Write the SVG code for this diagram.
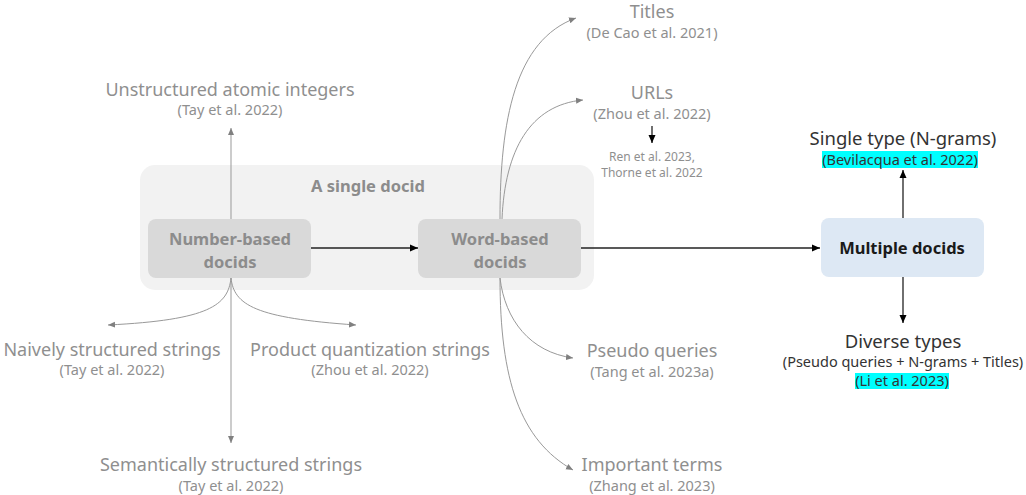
<svg xmlns="http://www.w3.org/2000/svg" width="1026" height="495" viewBox="0 0 1026 495">
<defs>
<marker id="ag" markerWidth="8" markerHeight="8" refX="7" refY="4" orient="auto" markerUnits="userSpaceOnUse"><path d="M0,1 L7,4 L0,7 Z" fill="#808080"/></marker>
<marker id="ab" markerWidth="9" markerHeight="9" refX="8" refY="4.5" orient="auto" markerUnits="userSpaceOnUse"><path d="M0,1 L8,4.5 L0,8 Z" fill="#000"/></marker>
<style>
text{font-family:"Noto Sans","Open Sans","Liberation Sans",sans-serif;text-anchor:middle}
.lab{font-size:18px;fill:#8f8f8f}
.cit{font-size:14.5px;fill:#8f8f8f}
.sm{font-size:12px;fill:#8f8f8f}
.nd{font-size:16.5px;font-weight:bold;fill:#8c8c8c}
.dk{font-size:18.5px;fill:#333}
.dkc{font-size:14.5px;fill:#333}
.g{fill:none;stroke:#999;stroke-width:1}
.b{fill:none;stroke:#222;stroke-width:1.3}
</style>
</defs>
<g id="container"><rect x="140" y="165" width="454" height="125" rx="15" fill="#f2f2f2"/><text x="368" y="192" class="nd">A single docid</text></g>
<g id="number-based"><rect x="148" y="219" width="163" height="59" rx="8" fill="#d9d9d9"/><text x="230" y="245" class="nd">Number-based</text><text x="230" y="268" class="nd">docids</text></g>
<g id="word-based"><rect x="418" y="219" width="163" height="59" rx="8" fill="#d9d9d9"/><text x="500" y="245" class="nd">Word-based</text><text x="500" y="268" class="nd">docids</text></g>
<g id="multiple"><rect x="821" y="218" width="163" height="59" rx="8" fill="#dde8f4"/><text x="902" y="254" class="nd" style="fill:#1a1a1a">Multiple docids</text></g>
<g id="unstructured"><text x="230" y="96" class="lab">Unstructured atomic integers</text><text x="230" y="115" class="cit">(Tay et al. 2022)</text></g>
<g id="naively"><text x="112" y="356" class="lab">Naively structured strings</text><text x="112" y="375" class="cit">(Tay et al. 2022)</text></g>
<g id="pq"><text x="370" y="356" class="lab">Product quantization strings</text><text x="370" y="375" class="cit">(Zhou et al. 2022)</text></g>
<g id="semantic"><text x="231" y="471" class="lab">Semantically structured strings</text><text x="231" y="491" class="cit">(Tay et al. 2022)</text></g>
<g id="titles"><text x="652" y="18" class="lab">Titles</text><text x="652" y="38" class="cit">(De Cao et al. 2021)</text></g>
<g id="urls"><text x="652" y="99" class="lab">URLs</text><text x="652" y="119" class="cit">(Zhou et al. 2022)</text></g>
<g id="ren"><text x="652" y="161" class="sm">Ren et al. 2023,</text><text x="652" y="177" class="sm">Thorne et al. 2022</text></g>
<g id="pseudo"><text x="652" y="357" class="lab">Pseudo queries</text><text x="652" y="377" class="cit">(Tang et al. 2023a)</text></g>
<g id="important"><text x="652" y="471" class="lab">Important terms</text><text x="652" y="491" class="cit">(Zhang et al. 2023)</text></g>
<g id="single"><text x="903" y="145" class="dk">Single type (N-grams)</text><rect x="822" y="151" width="156" height="17" fill="#00ffff"/><text x="900" y="165" class="dkc">(Bevilacqua et al. 2022)</text></g>
<g id="diverse"><text x="903" y="348" class="dk">Diverse types</text><text x="903" y="367" class="dkc">(Pseudo queries + N-grams + Titles)</text><rect x="855" y="373" width="94" height="16" fill="#00ffff"/><text x="902" y="386" class="dkc">(Li et al. 2023)</text></g>
<g id="connectors">
<path class="b" d="M311,248 H418" marker-end="url(#ab)"/>
<path class="b" d="M581,248 H820" marker-end="url(#ab)"/>
<path class="b" d="M903,218 V170" marker-end="url(#ab)"/>
<path class="b" d="M903,277 V323" marker-end="url(#ab)"/>
<path class="b" d="M652,126 V143" marker-end="url(#ab)"/>
<path class="g" d="M231,219 V128" marker-end="url(#ag)"/>
<path class="g" d="M231,278 V443" marker-end="url(#ag)"/>
<path class="g" d="M231,278 C228,305 210,320 108,325" marker-end="url(#ag)"/>
<path class="g" d="M231,278 C234,305 255,318 356,325" marker-end="url(#ag)"/>
<path class="g" d="M500,219 C500,120 515,40 576,18" marker-end="url(#ag)"/>
<path class="g" d="M502,219 C505,150 530,105 583,100" marker-end="url(#ag)"/>
<path class="g" d="M500,278 C505,320 530,352 573,358" marker-end="url(#ag)"/>
<path class="g" d="M500,278 C500,380 520,440 573,470" marker-end="url(#ag)"/>
</g>
</svg>
